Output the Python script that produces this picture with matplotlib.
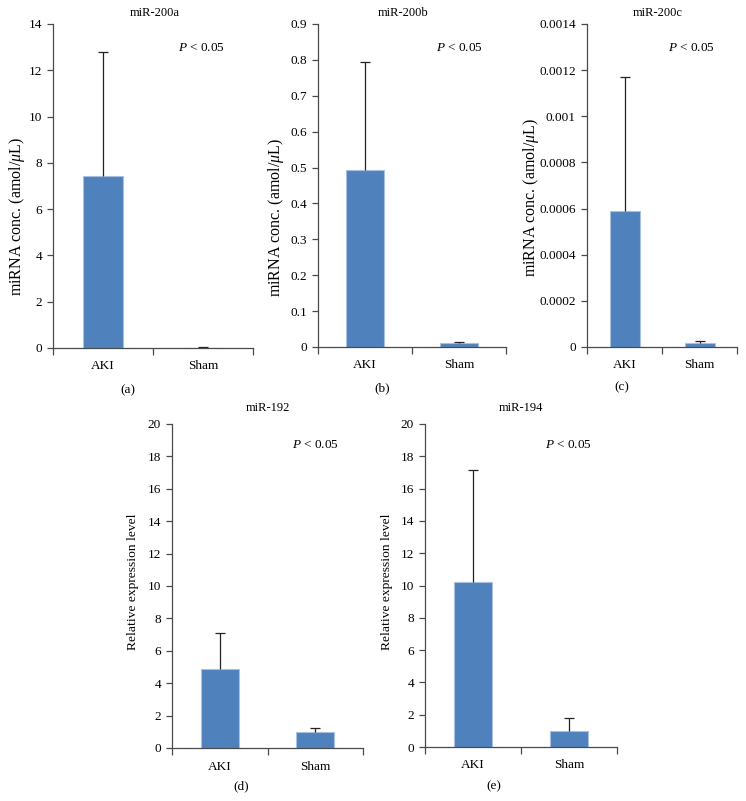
import matplotlib
matplotlib.use("Agg")
import matplotlib.pyplot as plt
from matplotlib.ticker import FixedLocator

plt.rcParams['font.family'] = ['Liberation Serif', 'DejaVu Serif']
plt.rcParams['mathtext.fontset'] = 'custom'
plt.rcParams['mathtext.rm'] = 'Liberation Serif'
plt.rcParams['mathtext.it'] = 'Liberation Serif:italic'

categories = ["AKI", "Sham"]

titles = ["miR-200a", "miR-200b", "miR-200c", "miR-192", "miR-194"]
panel_labels = ["(a)", "(b)", "(c)", "(d)", "(e)"]
ylabels = ["miRNA conc. (amol/$\\mu$L)", "miRNA conc. (amol/$\\mu$L)",
           "miRNA conc. (amol/$\\mu$L)", "Relative expression level",
           "Relative expression level"]

means_a = [7.45, 0.02]
errs_a = [5.33, 0.01]
means_b = [0.494, 0.010]
errs_b = [0.299, 0.003]
means_c = [0.000588, 0.0000174]
errs_c = [0.000582, 0.0000100]
means_d = [4.87, 0.97]
errs_d = [2.21, 0.27]
means_e = [10.23, 0.97]
errs_e = [6.90, 0.85]

ticks_a = [0, 2, 4, 6, 8, 10, 12, 14]
ticklabels_a = ["0", "2", "4", "6", "8", "10", "12", "14"]
ticks_b = [0, 0.1, 0.2, 0.3, 0.4, 0.5, 0.6, 0.7, 0.8, 0.9]
ticklabels_b = ["0", "0.1", "0.2", "0.3", "0.4", "0.5", "0.6", "0.7", "0.8", "0.9"]
ticks_c = [0, 0.0002, 0.0004, 0.0006, 0.0008, 0.001, 0.0012, 0.0014]
ticklabels_c = ["0", "0.0002", "0.0004", "0.0006", "0.0008", "0.001", "0.0012", "0.0014"]
ticks_de = [0, 2, 4, 6, 8, 10, 12, 14, 16, 18, 20]
ticklabels_de = ["0", "2", "4", "6", "8", "10", "12", "14", "16", "18", "20"]

W, H = 746, 801
fig = plt.figure(figsize=(W / 100, H / 100), dpi=100)

# axes pixel boxes: left, right, top, bottom
boxes = [(53, 253, 24, 348), (318, 506, 24, 347), (587, 737, 24, 347),
         (172, 363, 424, 748), (425, 617, 424, 747)]
ylabel_pos = [(17, 216), (276, 217), (531, 197), (133, 582), (387, 582)]
title_pos = [(155, 13), (403, 13), (658, 13), (268, 408), (521, 408)]
plabel_pos = [(128, 390), (382, 388), (622, 387), (241, 786), (494, 786)]
p_pos = [(201, 48), (459, 48), (691, 48), (315, 445), (568, 445)]

panels = [
    (means_a, errs_a, ticks_a, ticklabels_a),
    (means_b, errs_b, ticks_b, ticklabels_b),
    (means_c, errs_c, ticks_c, ticklabels_c),
    (means_d, errs_d, ticks_de, ticklabels_de),
    (means_e, errs_e, ticks_de, ticklabels_de),
]

spine_col = "#4a4a4a"
bar_col = "#4f81bd"
err_col = "#222222"

for i, (means, errs, ticks, tlabels) in enumerate(panels):
    l, r, t, b = boxes[i]
    ax = fig.add_axes([l / W, 1 - b / H, (r - l) / W, (b - t) / H])
    x = list(range(len(categories)))
    tops = [m + e for m, e in zip(means, errs)]
    ax.bar(x, means, width=0.4, color=bar_col, edgecolor="#a9c0e0", linewidth=0.8, zorder=2)
    ax.vlines(x, means, tops, colors=err_col, linewidth=0.9, zorder=3)
    ax.plot(x, tops, linestyle="none", marker="_", markersize=6.5,
            markeredgewidth=0.9, color=err_col, zorder=3)
    ax.set_xlim(-0.5, 1.5)
    ax.set_ylim(ticks[0], ticks[-1])
    ax.set_yticks(ticks)
    ax.set_yticklabels(tlabels)
    ax.set_xticks(x)
    ax.set_xticklabels(categories)
    ax.xaxis.set_minor_locator(FixedLocator([-0.5, 0.5, 1.5]))
    ax.tick_params(axis="x", which="major", length=0, pad=9, labelsize=9.5)
    ax.tick_params(axis="x", which="minor", length=5, width=0.9, color=spine_col, direction="out")
    ax.tick_params(axis="y", length=4, width=0.9, color=spine_col, direction="out", labelsize=9.5, pad=4)
    for s in ["top", "right"]:
        ax.spines[s].set_visible(False)
    for s in ["left", "bottom"]:
        ax.spines[s].set_color(spine_col)
        ax.spines[s].set_linewidth(0.9)
    ax.spines["bottom"].set_zorder(4)

    fs_y = 11.5 if i < 3 else 9.7
    fig.text(ylabel_pos[i][0] / W, 1 - ylabel_pos[i][1] / H, ylabels[i],
             rotation=90, ha="center", va="center", fontsize=fs_y)
    fig.text(title_pos[i][0] / W, 1 - title_pos[i][1] / H, titles[i],
             ha="center", va="center", fontsize=9)
    fig.text(plabel_pos[i][0] / W, 1 - plabel_pos[i][1] / H, panel_labels[i],
             ha="center", va="center", fontsize=9.5)
    fig.text(p_pos[i][0] / W, 1 - p_pos[i][1] / H, "$\\it{P}$ < 0.05",
             ha="center", va="center", fontsize=9.5)

fig.savefig("out.png", dpi=100)
